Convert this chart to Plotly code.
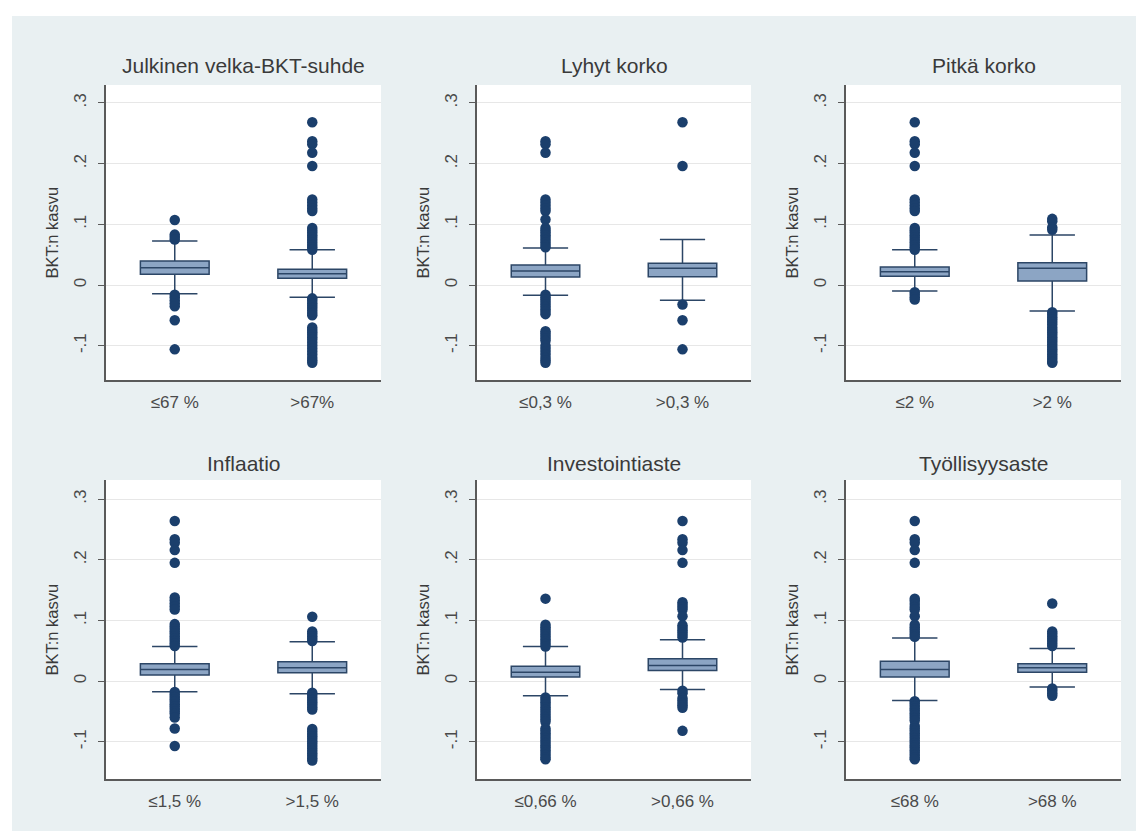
import plotly.graph_objects as go

W, H = 1144, 831

# ---------------- data ----------------
panel_titles = ["Julkinen velka-BKT-suhde", "Lyhyt korko", "Pitkä korko",
                "Inflaatio", "Investointiaste", "Työllisyysaste"]
cat_labels = [["≤67 %", ">67%"], ["≤0,3 %", ">0,3 %"], ["≤2 %", ">2 %"],
              ["≤1,5 %", ">1,5 %"], ["≤0,66 %", ">0,66 %"], ["≤68 %", ">68 %"]]
y_title = "BKT:n kasvu"
y_tickvals = [-0.1, 0, 0.1, 0.2, 0.3]
y_ticktext = ["-.1", "0", ".1", ".2", ".3"]

q1 = [[0.0176, 0.0110], [0.0132, 0.0137], [0.0143, 0.0066],
      [0.0099, 0.0137], [0.0066, 0.0175], [0.0066, 0.0148]]
median = [[0.0286, 0.0187], [0.0230, 0.0275], [0.0220, 0.0275],
          [0.0190, 0.0220], [0.0148, 0.0258], [0.0190, 0.0220]]
q3 = [[0.0396, 0.0258], [0.0330, 0.0357], [0.0297, 0.0368],
      [0.0285, 0.0318], [0.0247, 0.0367], [0.0329, 0.0285]]
lower_whisker = [[-0.0143, -0.0203], [-0.0170, -0.0250], [-0.0099, -0.0429],
                 [-0.0175, -0.0210], [-0.0240, -0.0137], [-0.0318, -0.0099]]
upper_whisker = [[0.0725, 0.0580], [0.0610, 0.0750], [0.0580, 0.0824],
                 [0.0570, 0.0647], [0.0570, 0.0680], [0.0712, 0.0537]]

outliers_1a = [0.107, 0.083, 0.079, 0.075, -0.016, -0.02, -0.025, -0.03, -0.035, -0.058, -0.106]
outliers_1b = [0.268, 0.237, 0.232, 0.218, 0.196, 0.141, 0.136, 0.131, 0.126, 0.122,
               0.094, 0.09, 0.086, 0.082, 0.078, 0.074, 0.07, 0.066, 0.062, 0.058,
               -0.022, -0.026, -0.03, -0.034, -0.038, -0.042, -0.046, -0.05,
               -0.07, -0.074, -0.078, -0.082, -0.086, -0.09, -0.095, -0.1, -0.105,
               -0.11, -0.115, -0.12, -0.124, -0.128]
outliers_2a = [0.237, 0.232, 0.218, 0.141, 0.136, 0.131, 0.126, 0.122, 0.108,
               0.094, 0.09, 0.086, 0.082, 0.078, 0.074, 0.07, 0.066, 0.062,
               -0.016, -0.02, -0.024, -0.028, -0.032, -0.036, -0.04, -0.044, -0.048,
               -0.076, -0.08, -0.084, -0.088, -0.092, -0.1, -0.105, -0.11, -0.115,
               -0.12, -0.124, -0.128]
outliers_2b = [0.268, 0.196, -0.032, -0.058, -0.106]
outliers_3a = [0.268, 0.237, 0.232, 0.218, 0.196, 0.141, 0.136, 0.131, 0.126, 0.122,
               0.094, 0.09, 0.086, 0.082, 0.078, 0.074, 0.07, 0.066, 0.062, 0.058,
               -0.012, -0.016, -0.02, -0.024]
outliers_3b = [0.109, 0.105, 0.095, 0.091, -0.045, -0.049, -0.053, -0.057, -0.061,
               -0.065, -0.07, -0.074, -0.078, -0.082, -0.086, -0.09, -0.094, -0.098,
               -0.102, -0.106, -0.11, -0.114, -0.118, -0.122, -0.126, -0.128]
outliers_4a = [0.264, 0.234, 0.228, 0.216, 0.195, 0.138, 0.133, 0.128, 0.123, 0.118,
               0.094, 0.09, 0.086, 0.082, 0.078, 0.074, 0.07, 0.066, 0.062, 0.058,
               -0.018, -0.022, -0.026, -0.03, -0.034, -0.038, -0.042, -0.046, -0.05,
               -0.054, -0.06, -0.078, -0.107]
outliers_4b = [0.106, 0.082, 0.078, 0.074, 0.07, 0.066, -0.019, -0.023, -0.027,
               -0.031, -0.035, -0.039, -0.043, -0.047, -0.079, -0.083, -0.087, -0.091,
               -0.095, -0.099, -0.103, -0.107, -0.111, -0.115, -0.119, -0.123,
               -0.127, -0.131]
outliers_5a = [0.136, 0.093, 0.089, 0.085, 0.081, 0.077, 0.073, 0.069, 0.065, 0.061,
               0.057, -0.027, -0.031, -0.035, -0.039, -0.043, -0.047, -0.051, -0.055,
               -0.059, -0.063, -0.067, -0.078, -0.082, -0.086, -0.09, -0.094, -0.098,
               -0.102, -0.106, -0.11, -0.114, -0.118, -0.122, -0.126, -0.129]
outliers_5b = [0.264, 0.234, 0.228, 0.216, 0.195, 0.13, 0.126, 0.122, 0.118, 0.107,
               0.092, 0.088, 0.084, 0.08, 0.076, 0.072, -0.016, -0.02, -0.028, -0.032,
               -0.036, -0.04, -0.044, -0.082]
outliers_6a = [0.264, 0.234, 0.228, 0.216, 0.195, 0.136, 0.132, 0.127, 0.122, 0.118,
               0.107, 0.093, 0.089, 0.085, 0.081, 0.077, 0.073, -0.033, -0.037,
               -0.041, -0.045, -0.049, -0.053, -0.057, -0.061, -0.065, -0.074, -0.078,
               -0.082, -0.086, -0.09, -0.094, -0.098, -0.102, -0.106, -0.11, -0.114,
               -0.118, -0.122, -0.126, -0.129]
outliers_6b = [0.128, 0.082, 0.078, 0.074, 0.07, 0.066, 0.062, 0.058, -0.012, -0.016,
               -0.02, -0.024]

outliers = [[outliers_1a, outliers_1b], [outliers_2a, outliers_2b], [outliers_3a, outliers_3b],
            [outliers_4a, outliers_4b], [outliers_5a, outliers_5b], [outliers_6a, outliers_6b]]

# ---------------- layout (pixels) ----------------
col_px = [(98, 373), (469, 743), (838, 1113)]
row_px = [(77, 372), (472, 771)]
row_yrange = [(-0.1565, 0.3295), (-0.1614, 0.3316)]
title_y_px = [58, 455]

FONT = "Liberation Sans, Arial, Helvetica, sans-serif"
NAVY = "#1b3f6c"
BOX_FILL = "#8ca5c4"
BOX_LINE = "#2c4666"
AXIS_C = "#5a5a5a"
TEXT_C = "#3a3a3a"

fig = go.Figure()
annotations = []
layout_axes = {}

for i in range(6):
    r, c = divmod(i, 3)
    n = "" if i == 0 else str(i + 1)
    xa, ya = "x" + n, "y" + n
    x0, x1 = col_px[c]
    yt, yb = row_px[r]

    fig.add_trace(go.Box(
        x=cat_labels[i], q1=q1[i], median=median[i], q3=q3[i],
        lowerfence=lower_whisker[i], upperfence=upper_whisker[i],
        boxpoints=False, width=0.5, whiskerwidth=0.66,
        fillcolor=BOX_FILL, line=dict(color=BOX_LINE, width=1.5),
        xaxis=xa, yaxis=ya, showlegend=False, hoverinfo="skip"))
    for j in range(2):
        vals = outliers[i][j]
        fig.add_trace(go.Scatter(
            x=[cat_labels[i][j]] * len(vals), y=vals, mode="markers",
            marker=dict(size=10.5, color=NAVY, line=dict(width=0)),
            xaxis=xa, yaxis=ya, showlegend=False, hoverinfo="skip"))

    layout_axes["xaxis" + n] = dict(
        domain=[x0 / W, x1 / W], anchor=ya, type="category",
        categoryorder="array", categoryarray=cat_labels[i], range=[-0.5, 1.5],
        showgrid=False, zeroline=False, showline=True, linecolor=AXIS_C, linewidth=1.5,
        ticks="outside", ticklen=6, tickcolor="rgba(0,0,0,0)",
        tickfont=dict(family=FONT, size=17, color="#4a4a4a"), fixedrange=True)
    layout_axes["yaxis" + n] = dict(
        domain=[1 - yb / H, 1 - yt / H], anchor=xa, range=list(row_yrange[r]),
        tickvals=y_tickvals, ticktext=y_ticktext, tickangle=-90,
        showgrid=True, gridcolor="#e7e7e7", gridwidth=1, zeroline=False,
        showline=True, linecolor=AXIS_C, linewidth=1.5,
        ticks="outside", ticklen=6, tickcolor=AXIS_C, tickwidth=1.2,
        ticklabelstandoff=5,
        tickfont=dict(family=FONT, size=17, color="#4a4a4a"), fixedrange=True)

    annotations.append(dict(
        text=panel_titles[i], xref="paper", yref="paper",
        x=(x0 + x1) / 2 / W, y=1 - title_y_px[r] / H, xanchor="center", yanchor="middle",
        showarrow=False, font=dict(family=FONT, size=21, color=TEXT_C)))
    annotations.append(dict(
        text=y_title, xref="paper", yref="paper", textangle=-90,
        x=(x0 - 55) / W, y=1 - (yt + yb) / 2 / H, xanchor="center", yanchor="middle",
        showarrow=False, font=dict(family=FONT, size=16.5, color=TEXT_C)))

shapes = [
    dict(type="rect", xref="paper", yref="paper", x0=0, x1=1, y0=1 - 8 / H, y1=1,
         fillcolor="white", line=dict(width=0), layer="below"),
    dict(type="rect", xref="paper", yref="paper", x0=0, x1=4 / W, y0=0, y1=1,
         fillcolor="white", line=dict(width=0), layer="below"),
]

fig.update_layout(
    width=W, height=H, margin=dict(l=0, r=0, t=0, b=0),
    paper_bgcolor="#e9f0f2", plot_bgcolor="white",
    annotations=annotations, shapes=shapes, **layout_axes)

fig.write_html("out.html", config={"displayModeBar": False})
